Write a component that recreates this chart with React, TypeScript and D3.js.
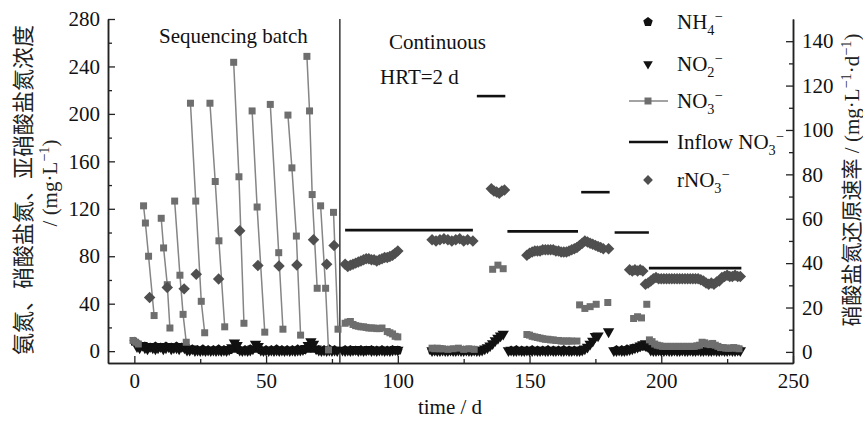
import React, { useEffect, useRef } from "react"
import * as d3 from "d3"

type Pt = [number, number]

// NH4- concentration (mg/L, left axis), [day, value]
const nh4: Pt[] = [
  [0, 8], [2, 5], [4, 4], [6, 3], [8, 4], [10, 3], [12, 4], [14, 3], [16, 4], [18, 3],
  [20, 2], [22, 1.5], [24, 1], [26, 1.5], [28, 1], [30, 1], [32, 1.5], [34, 1], [36, 1], [38, 2],
  [40, 1], [42, 1], [44, 1.5], [46, 2], [48, 1], [50, 1], [52, 1], [54, 1.5], [56, 1], [58, 1],
  [60, 1], [62, 1.5], [64, 1], [66, 2], [68, 2], [70, 1], [72, 1], [74, 1.5], [76, 1],
  [80, 1], [82, 1], [84, 0.5], [86, 1], [88, 0.5], [90, 1], [92, 0.5], [94, 1], [96, 0.5], [98, 1], [100, 0.5],
  [113, 0.5], [115, 0.5], [117, 1], [119, 0.5], [121, 0.5], [123, 1], [125, 0.5], [127, 0.5], [129, 0.5],
  [143, 0.5], [145, 1], [147, 0.5], [149, 0.5], [151, 1], [153, 0.5], [155, 0.5], [157, 1], [159, 0.5],
  [161, 0.5], [163, 1], [165, 0.5], [167, 0.5], [169, 0.5],
  [183, 1], [185, 1], [187, 1.5], [189, 2], [191, 3], [193, 4], [195, 3], [197, 1], [199, 0.5],
  [201, 0.5], [203, 1], [205, 0.5], [207, 0.5], [209, 1], [211, 0.5], [213, 0.5], [215, 1], [217, 0.5],
  [219, 0.5], [221, 1], [223, 0.5], [225, 0.5], [227, 1], [229, 0.5],
]

// NO2- concentration (mg/L, left axis)
const no2: Pt[] = [
  [1, 4], [2, 3], [3, 5], [4, 3], [5, 2], [6, 4], [7, 3], [8, 2], [9, 3], [10, 4],
  [11, 2], [12, 3], [13, 4], [14, 2], [15, 3], [16, 3], [17, 2], [18, 4], [19, 3], [20, 1],
  [21, 1], [22, 2], [23, 0.5], [24, 1], [25, 0.5], [26, 1], [27, 0.5], [28, 1], [29, 0.5], [30, 1],
  [31, 0.5], [32, 1], [33, 0.5], [34, 1], [35, 0.5], [36, 1.5], [37, 3], [38, 7], [39, 5], [40, 1],
  [41, 0.5], [42, 1], [43, 0.5], [44, 1], [45, 2], [46, 6], [47, 4], [48, 1], [49, 0.5], [50, 1],
  [51, 0.5], [52, 1], [53, 0.5], [54, 1], [55, 0.5], [56, 1], [57, 0.5], [58, 1], [59, 0.5], [60, 1],
  [61, 0.5], [62, 1], [63, 1], [64, 1.5], [65, 2.5], [66, 5], [67, 8], [68, 6], [69, 2], [70, 1],
  [71, 0.5], [72, 1], [73, 0.5], [74, 1], [75, 0.5], [76, 1], [77, 0.5],
  [79, 1], [80, 0.5], [81, 1], [82, 0.5], [83, 1], [84, 1.5], [85, 0.5], [86, 1], [87, 0.5], [88, 1],
  [89, 1.5], [90, 0.5], [91, 1], [92, 0.5], [93, 1], [94, 1], [95, 0.5], [96, 1], [97, 0.5], [98, 1],
  [99, 1.5], [100, 1],
  [113, 0.5], [114, 1], [115, 0.5], [116, 0.5], [117, 1], [118, 0.5], [119, 0.5], [120, 1], [121, 0.5],
  [122, 0.5], [123, 1], [124, 0.5], [125, 0.5], [126, 1], [127, 0.5], [128, 0.5], [129, 1], [130, 0.5],
  [131, 0.5], [132, 1], [133, 2], [134, 3], [135, 4.5], [136, 6.5], [137, 9], [138, 11], [139, 13], [140, 14.5],
  [142, 0.5], [143, 1], [144, 0.5], [145, 0.5], [146, 1], [147, 0.5], [148, 0.5], [149, 1], [150, 0.5],
  [151, 0.5], [152, 1], [153, 0.5], [154, 0.5], [155, 1], [156, 0.5], [157, 0.5], [158, 1], [159, 0.5],
  [160, 0.5], [161, 1], [162, 0.5], [163, 0.5], [164, 1], [165, 0.5], [166, 0.5], [167, 1], [168, 0.5],
  [169, 0.5], [170, 1], [171, 2], [172, 3.5], [173, 6], [174, 8.5], [175, 12.5], [176, 13], [180, 16.5],
  [182, 0.5], [183, 0.5], [184, 1], [185, 0.5], [186, 0.5], [187, 1], [188, 1.5], [189, 2], [190, 3],
  [191, 3.5], [192, 4.5], [193, 5.5], [194, 6.5], [195, 4], [196, 1], [197, 0.5], [198, 0.5], [199, 1],
  [200, 0.5], [201, 0.5], [202, 1], [203, 0.5], [204, 0.5], [205, 1], [206, 0.5], [207, 0.5], [208, 1],
  [209, 0.5], [210, 0.5], [211, 1], [212, 0.5], [213, 0.5], [214, 1], [215, 0.5], [216, 0.5], [217, 1],
  [218, 0.5], [219, 0.5], [220, 1], [221, 0.5], [222, 0.5], [223, 1], [224, 0.5], [225, 0.5], [226, 1],
  [227, 0.5], [228, 0.5], [229, 1], [230, 0.5],
]

// NO3- in the sequencing batch phase, one array per batch cycle (joined by lines)
const no3Batch: Pt[][] = [
  [[-0.5, 9], [0.5, 7.5], [1.5, 6]],
  [[3.5, 122.5], [4.2, 108], [5.4, 80], [7.5, 30]],
  [[10.2, 112], [11.1, 87], [12.5, 56], [13.5, 19.5]],
  [[15.3, 126.5], [17.3, 64], [18.5, 31], [19.7, 7.5]],
  [[21.3, 209], [23.3, 126.5], [25.4, 42], [26.7, 15.5]],
  [[28.7, 209], [30.7, 143], [32.1, 93], [34.3, 20.5]],
  [[37.7, 243.5], [39.7, 147], [41.6, 23.5]],
  [[44.7, 202.5], [46.6, 121.5], [49.5, 16]],
  [[51.6, 208], [54.8, 83], [56.4, 18.5]],
  [[58.3, 199], [59.8, 154.5], [61.5, 97], [63.1, 13.5]],
  [[65.5, 248.5], [66.5, 202.5], [67.5, 132], [69.4, 53]],
  [[70.7, 122.5], [72.6, 53], [73.7, 1]],
  [[75.6, 117], [77.3, 18.5]],
]

// NO3- in the continuous phase (markers only)
const no3Cont: Pt[] = [
  [80, 23.5], [81, 24.5], [82, 25], [83, 22.5], [84, 21.5], [85, 21], [86, 20.5], [87, 20.5], [88, 20],
  [89, 19.5], [90, 19.5], [91, 19.5], [92, 19], [93, 19], [94, 19.5], [96, 16.5], [97, 15.5], [98, 14.5],
  [99, 12.5], [100, 12],
  [113, 2.5], [114, 2], [115, 2.5], [116, 2], [117, 2], [119, 1.5], [121, 2], [123, 2.5], [125, 1.5],
  [127, 2], [129, 1.5],
  [136, 69], [138, 72.5], [140, 69.5],
  [149, 14], [150, 13.5], [151, 12.5], [152, 12], [153, 11.5], [154, 11], [155, 10.5], [156, 10],
  [157, 10], [158, 9.5], [159, 9.5], [160, 9], [161, 9], [162, 8.5], [163, 8.5], [164, 8.5], [165, 8.5],
  [166, 8.5], [168, 8.5],
  [169, 39], [171, 36], [173, 37.5], [175.3, 39.5], [179.7, 41],
  [189.5, 27.5], [191, 29], [192.5, 28], [194.5, 39.5],
  [195.5, 9.5], [196.5, 8], [197.5, 6], [198.5, 5], [199.5, 4.5], [200.5, 4], [201.5, 4], [202.5, 4],
  [203.5, 4], [204.5, 4], [205.5, 4], [206.5, 4], [207.5, 4], [208.5, 4], [209.5, 4], [210.5, 4],
  [211.5, 4], [212.5, 4], [213.5, 4.5], [214.5, 5], [215.5, 7.5], [216.5, 7], [217.5, 6], [218.5, 5.5],
  [219.5, 6.5], [220.5, 5], [221.5, 4], [222.5, 3], [223.5, 3], [224.5, 2.5], [225.5, 2.5], [226.5, 2.5],
  [227.5, 3], [228.5, 2.5], [229.5, 2],
]

// inflow NO3- (mg/L): [from day, to day, value]
const inflow: [number, number, number][] = [
  [80, 128.5, 102],
  [130, 140.8, 215],
  [141.6, 168.4, 101],
  [169.6, 180.4, 134],
  [182.3, 195.3, 100],
  [195.3, 230.4, 70],
]

// nitrate reduction rate (mg/(L·d), right axis)
const rno3: Pt[] = [
  [5.8, 24.5], [12.5, 29], [18.9, 28.4], [23.5, 35], [32, 32.9], [40, 54.6], [46.9, 38.9],
  [54.9, 38.7], [61.7, 39.2], [68, 50.5], [73, 39.5], [75.8, 47.9],
  [80, 39.5], [81, 38.5], [82, 39], [83, 39.5], [84, 40], [85, 40.5], [86, 41], [87, 41.5],
  [88, 42], [89, 42], [90, 41.5], [91, 41.5], [92, 41], [93, 41.5], [94, 42], [95, 42.5], [96, 42.5],
  [97, 43], [98, 43.5], [99, 44.5], [100, 45.5],
  [113, 50.5], [114.5, 50], [116, 50.5], [117.5, 51], [119, 50.5], [120.5, 50], [122, 50.5],
  [123.5, 51], [125, 50], [126.5, 50.5], [128.5, 50],
  [135.5, 73.5], [136.5, 72.5], [137.5, 72], [138.5, 71.5], [139.5, 72.5], [140.5, 73],
  [149, 43.5], [150, 44.5], [151, 45], [152, 45.5], [153, 45.5], [154, 45.5], [155, 46], [156, 46],
  [157, 46], [158, 46], [159, 46], [160, 45.5], [161, 45.5], [162, 45], [163, 45], [164, 45],
  [165, 45.5], [166, 46], [167, 46.5], [168, 47], [169, 48], [170, 49], [171, 50], [172, 49.5],
  [173, 49], [174, 48.5], [175, 48], [176, 47.5], [177, 47], [178, 46.5], [180, 46.5],
  [188, 37], [189, 36.5], [190, 37], [191, 36.5], [192, 37], [193, 36.5],
  [194, 30.5], [195, 31], [196, 32], [197, 33], [198, 33.5], [199, 33], [200, 33], [201, 33],
  [202, 33], [203, 33], [204, 33], [205, 33], [206, 33], [207, 33], [208, 33], [209, 33], [210, 33],
  [211, 33], [212, 33], [213, 33], [214, 33], [215, 32.5], [216, 32], [217, 31], [218, 30.5],
  [219, 31], [220, 30.5], [221, 31.5], [222, 32], [223, 33.5], [224, 34], [225, 34.5], [226, 34],
  [227, 34], [228, 34.5], [229, 34], [230, 34],
]

const phaseSwitchDay = 78
const xMajor = [0, 50, 100, 150, 200, 250]
const xMinor = [25, 75, 125, 175, 225]
const yLeftMajor = [0, 40, 80, 120, 160, 200, 240, 280]
const yLeftMinor = [20, 60, 100, 140, 180, 220, 260]
const yRightMajor = [0, 20, 40, 60, 80, 100, 120, 140]
const yRightMinor = [10, 30, 50, 70, 90, 110, 130]

const FONT = "'Liberation Serif', 'Times New Roman', 'Noto Sans CJK SC', serif"
const GRAY_SQ = "#6e6e6e"
const GRAY_DIA = "#4f4f4f"
const BLACK = "#111"

type Part = [string, "n" | "sub" | "sup"]

function rich(text: d3.Selection<SVGTextElement, unknown, null, undefined>, parts: Part[], fs: number) {
  let cur = 0
  parts.forEach(([t, k]) => {
    const target = k === "sub" ? fs * 0.3 : k === "sup" ? -fs * 0.4 : 0
    text.append("tspan")
      .attr("dy", target - cur)
      .attr("font-size", k === "n" ? fs : fs * 0.68)
      .text(t)
    cur = target
  })
}

function pentagon(r: number) {
  const pts = d3.range(5).map(i => {
    const a = -Math.PI / 2 + (i * 2 * Math.PI) / 5
    return [r * Math.cos(a), r * Math.sin(a)]
  })
  return "M" + pts.map(p => p.join(",")).join("L") + "Z"
}

export default function App() {
  const ref = useRef<SVGSVGElement>(null)

  useEffect(() => {
    const svg = d3.select(ref.current)
    svg.selectAll("*").remove()

    const x = d3.scaleLinear().domain([-10, 250]).range([108, 793])
    const yL = d3.scaleLinear().domain([-10, 280]).range([363, 19])
    const yR = d3.scaleLinear().domain([-5, 150]).range([363, 19])

    const styleAxis = (g: any) => {
      g.select(".domain").attr("stroke", "#222").attr("stroke-width", 1.5)
      g.selectAll(".tick line").attr("stroke", "#222").attr("stroke-width", 1.3)
      g.selectAll("text").attr("font-family", FONT).attr("font-size", 21).attr("fill", "#111")
      g.attr("font-family", null).attr("font-size", null)
    }

    // bottom axis
    svg.append("g").attr("transform", "translate(0,363)")
      .call(d3.axisBottom(x).tickValues(xMinor).tickSize(-4).tickSizeOuter(0).tickFormat(() => ""))
      .call(styleAxis)
    svg.append("g").attr("transform", "translate(0,363)")
      .call(d3.axisBottom(x).tickValues(xMajor).tickSize(-7).tickSizeOuter(0).tickPadding(10))
      .call(styleAxis)

    // left axis
    svg.append("g").attr("transform", "translate(108,0)")
      .call(d3.axisLeft(yL).tickValues(yLeftMinor).tickSize(-4).tickSizeOuter(0).tickFormat(() => ""))
      .call(styleAxis)
    svg.append("g").attr("transform", "translate(108,0)")
      .call(d3.axisLeft(yL).tickValues(yLeftMajor).tickSize(-7).tickSizeOuter(0).tickPadding(8))
      .call(styleAxis)

    // right axis
    svg.append("g").attr("transform", "translate(793,0)")
      .call(d3.axisRight(yR).tickValues(yRightMinor).tickSize(-4).tickSizeOuter(0).tickFormat(() => ""))
      .call(styleAxis)
    svg.append("g").attr("transform", "translate(793,0)")
      .call(d3.axisRight(yR).tickValues(yRightMajor).tickSize(-7).tickSizeOuter(0).tickPadding(9))
      .call(styleAxis)

    // phase divider
    svg.append("line")
      .attr("x1", x(phaseSwitchDay)).attr("x2", x(phaseSwitchDay))
      .attr("y1", yL(280)).attr("y2", yL(-10))
      .attr("stroke", "#444").attr("stroke-width", 1.6)

    const triPath = d3.symbol().type(d3.symbolTriangle).size(56)() as string
    const sqPath = d3.symbol().type(d3.symbolSquare).size(49)() as string
    const diaPath = d3.symbol().type(d3.symbolSquare).size(66)() as string
    const pentPath = pentagon(5)

    // NH4
    svg.append("g").selectAll("path").data(nh4).enter().append("path")
      .attr("d", pentPath)
      .attr("transform", d => `translate(${x(d[0])},${yL(d[1])})`)
      .attr("fill", BLACK)

    // NO2
    svg.append("g").selectAll("path").data(no2).enter().append("path")
      .attr("d", triPath)
      .attr("transform", d => `translate(${x(d[0])},${yL(d[1])}) rotate(180)`)
      .attr("fill", BLACK)

    // NO3 batch lines + markers
    const line = d3.line<Pt>().x(d => x(d[0])).y(d => yL(d[1]))
    svg.append("g").selectAll("path").data(no3Batch).enter().append("path")
      .attr("d", d => line(d))
      .attr("fill", "none")
      .attr("stroke", "#858585")
      .attr("stroke-width", 1.5)
    const no3All = ([] as Pt[]).concat(...no3Batch, no3Cont)
    svg.append("g").selectAll("path").data(no3All).enter().append("path")
      .attr("d", sqPath)
      .attr("transform", d => `translate(${x(d[0])},${yL(d[1])})`)
      .attr("fill", GRAY_SQ)

    // inflow NO3
    svg.append("g").selectAll("line").data(inflow).enter().append("line")
      .attr("x1", d => x(d[0])).attr("x2", d => x(d[1]))
      .attr("y1", d => yL(d[2])).attr("y2", d => yL(d[2]))
      .attr("stroke", BLACK).attr("stroke-width", 2.6)

    // rNO3
    svg.append("g").selectAll("path").data(rno3).enter().append("path")
      .attr("d", diaPath)
      .attr("transform", d => `translate(${x(d[0])},${yR(d[1])}) rotate(45)`)
      .attr("fill", GRAY_DIA)

    // annotations
    const note = (tx: number, ty: number, s: string) =>
      svg.append("text").attr("x", tx).attr("y", ty).attr("font-family", FONT)
        .attr("font-size", 21).attr("fill", "#111").text(s)
    note(159, 43, "Sequencing batch")
    note(389, 49, "Continuous")
    note(380, 84, "HRT=2 d")

    // legend
    const lx = 648
    const legend: { y: number; kind: string; parts: Part[] }[] = [
      { y: 22, kind: "nh4", parts: [["NH", "n"], ["4", "sub"], ["−", "sup"]] },
      { y: 64, kind: "no2", parts: [["NO", "n"], ["2", "sub"], ["−", "sup"]] },
      { y: 101, kind: "no3", parts: [["NO", "n"], ["3", "sub"], ["−", "sup"]] },
      { y: 142, kind: "inflow", parts: [["Inflow NO", "n"], ["3", "sub"], ["−", "sup"]] },
      { y: 180, kind: "rno3", parts: [["rNO", "n"], ["3", "sub"], ["−", "sup"]] },
    ]
    legend.forEach(item => {
      const g = svg.append("g")
      if (item.kind === "nh4") {
        g.append("path").attr("d", pentPath).attr("transform", `translate(${lx},${item.y})`).attr("fill", BLACK)
      } else if (item.kind === "no2") {
        g.append("path").attr("d", d3.symbol().type(d3.symbolTriangle).size(40)() as string)
          .attr("transform", `translate(${lx},${item.y}) rotate(180)`).attr("fill", BLACK)
      } else if (item.kind === "no3") {
        g.append("line").attr("x1", lx - 19).attr("x2", lx + 20).attr("y1", item.y).attr("y2", item.y)
          .attr("stroke", "#858585").attr("stroke-width", 1.5)
        g.append("path").attr("d", sqPath).attr("transform", `translate(${lx},${item.y})`).attr("fill", GRAY_SQ)
      } else if (item.kind === "inflow") {
        g.append("line").attr("x1", lx - 19).attr("x2", lx + 20).attr("y1", item.y).attr("y2", item.y)
          .attr("stroke", BLACK).attr("stroke-width", 2.6)
      } else {
        g.append("path").attr("d", d3.symbol().type(d3.symbolSquare).size(48)() as string)
          .attr("transform", `translate(${lx},${item.y}) rotate(45)`).attr("fill", GRAY_DIA)
      }
      const t = g.append("text").attr("x", 677).attr("y", item.y + 7)
        .attr("font-family", FONT).attr("fill", "#111")
      rich(t, item.parts, 21)
    })

    // axis titles
    svg.append("text").attr("x", 450).attr("y", 414).attr("text-anchor", "middle")
      .attr("font-family", FONT).attr("font-size", 21).attr("fill", "#111").text("time / d")

    svg.append("text").attr("transform", "translate(23,190) rotate(-90)")
      .attr("text-anchor", "middle").attr("dominant-baseline", "central")
      .attr("font-family", FONT).attr("font-size", 22).attr("fill", "#222")
      .text("氨氮、硝酸盐氮、亚硝酸盐氮浓度")
    const l2 = svg.append("text").attr("transform", "translate(57,183) rotate(-90)")
      .attr("text-anchor", "middle").attr("font-family", FONT).attr("fill", "#222")
    rich(l2, [["/ (mg·L", "n"], ["−1", "sup"], [")", "n"]], 21)

    const r = svg.append("text").attr("transform", "translate(859,180) rotate(-90)")
      .attr("text-anchor", "middle").attr("font-family", FONT).attr("fill", "#222")
    rich(r, [["硝酸盐氮还原速率 / (mg·L", "n"], ["−1", "sup"], ["·d", "n"], ["−1", "sup"], [")", "n"]], 21)
  }, [])

  return (
    <svg
      ref={ref}
      width={863}
      height={422}
      style={{ position: "absolute", left: 0, top: 0, background: "#fff" }}
    />
  )
}
